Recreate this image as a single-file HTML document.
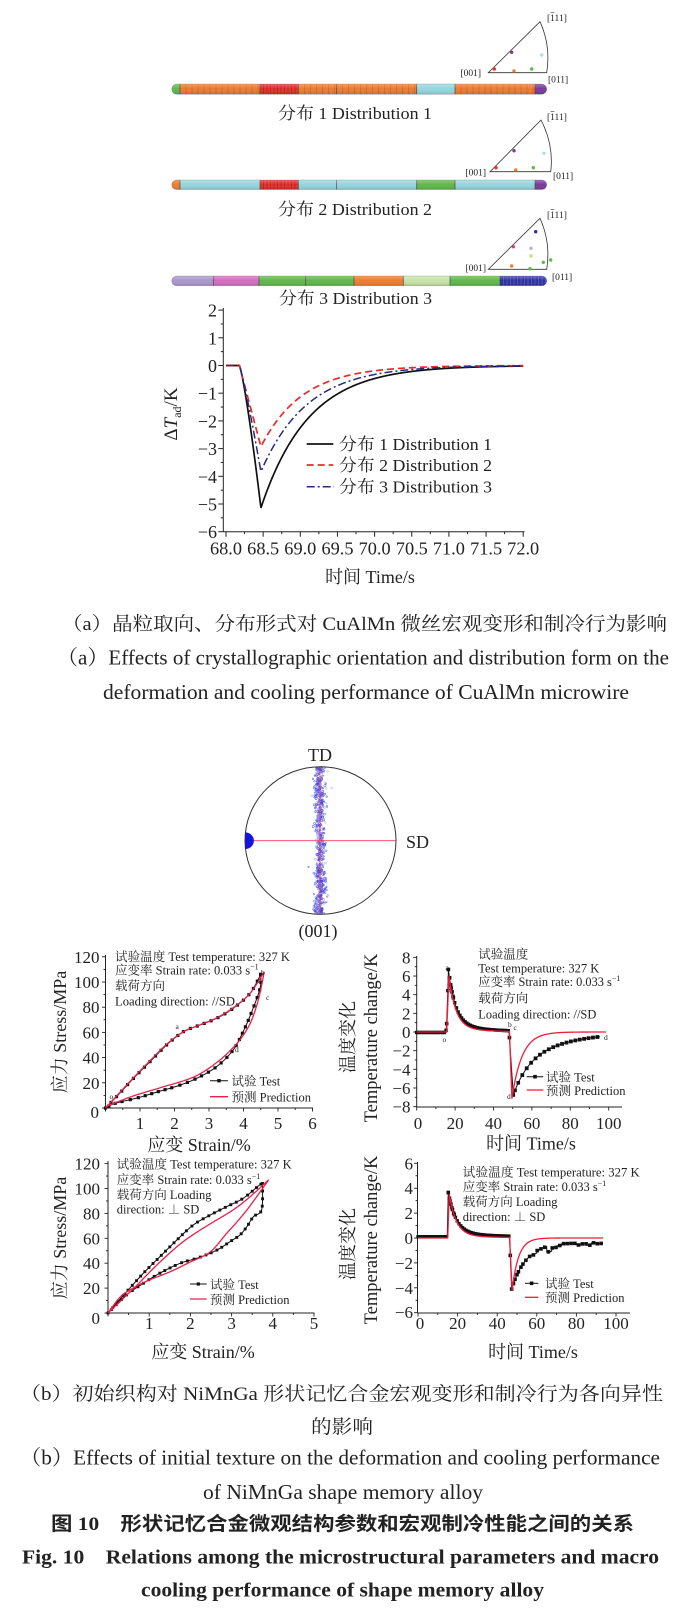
<!DOCTYPE html>
<html><head><meta charset="utf-8">
<style>
html,body{margin:0;padding:0;background:#fff;}
svg{display:block;}
text{font-family:"Liberation Serif","Noto Serif CJK SC",serif;fill:#222;}
.ann{font-size:12.5px;fill:#333;}
.tk{font-size:17px;}
.ta{font-size:18px;}
.bd{font-weight:bold;font-family:"Liberation Serif","Noto Sans CJK SC",sans-serif;}
</style></head><body>
<svg id="s" width="684" height="1610" viewBox="0 0 684 1610" xmlns="http://www.w3.org/2000/svg">
<defs id="defs">
<linearGradient id="shade" x1="0" y1="0" x2="0" y2="1">
<stop offset="0" stop-color="#fff" stop-opacity="0.3"/>
<stop offset="0.45" stop-color="#fff" stop-opacity="0"/>
<stop offset="1" stop-color="#000" stop-opacity="0.15"/>
</linearGradient>
</defs>
<rect width="684" height="1610" fill="#fff"/>

<!-- wire captions -->
<text x="278" y="119" font-size="17" textLength="154" lengthAdjust="spacingAndGlyphs">分布 1 Distribution 1</text>
<text x="278" y="215" font-size="17" textLength="154" lengthAdjust="spacingAndGlyphs">分布 2 Distribution 2</text>
<text x="279" y="304" font-size="17" textLength="153" lengthAdjust="spacingAndGlyphs">分布 3 Distribution 3</text>

<!-- IPF labels -->
<g font-size="9.5" fill="#333">
<text x="481" y="76" text-anchor="end">[001]</text>
<text x="547" y="21">[111]</text>
<text x="548" y="82.5">[011]</text>
<text x="486" y="175.5" text-anchor="end">[001]</text>
<text x="547" y="120">[111]</text>
<text x="553" y="179">[011]</text>
<text x="486" y="271" text-anchor="end">[001]</text>
<text x="547" y="218">[111]</text>
<text x="552" y="280">[011]</text>
</g>
<g stroke="#333" stroke-width="0.6">
<line x1="550.6" y1="12.5" x2="554.4" y2="12.5"/>
<line x1="550.6" y1="111.5" x2="554.4" y2="111.5"/>
<line x1="550.6" y1="209.5" x2="554.4" y2="209.5"/>
</g>

<!-- plot (a) texts -->
<g class="ta" text-anchor="end">
<text x="217" y="316.6">2</text>
<text x="217" y="344.3">1</text>
<text x="217" y="372">0</text>
<text x="217" y="399.7">−1</text>
<text x="217" y="427.4">−2</text>
<text x="217" y="455.1">−3</text>
<text x="217" y="482.8">−4</text>
<text x="217" y="510.5">−5</text>
<text x="217" y="538.2">−6</text>
</g>
<g class="ta" text-anchor="middle">
<text x="226" y="554.5" textLength="32" lengthAdjust="spacingAndGlyphs">68.0</text>
<text x="263.2" y="554.5" textLength="32" lengthAdjust="spacingAndGlyphs">68.5</text>
<text x="300.3" y="554.5" textLength="32" lengthAdjust="spacingAndGlyphs">69.0</text>
<text x="337.5" y="554.5" textLength="32" lengthAdjust="spacingAndGlyphs">69.5</text>
<text x="374.6" y="554.5" textLength="32" lengthAdjust="spacingAndGlyphs">70.0</text>
<text x="411.8" y="554.5" textLength="32" lengthAdjust="spacingAndGlyphs">70.5</text>
<text x="448.9" y="554.5" textLength="32" lengthAdjust="spacingAndGlyphs">71.0</text>
<text x="486.1" y="554.5" textLength="32" lengthAdjust="spacingAndGlyphs">71.5</text>
<text x="523.2" y="554.5" textLength="32" lengthAdjust="spacingAndGlyphs">72.0</text>
</g>
<text x="370" y="583" font-size="18" text-anchor="middle">时间 Time/s</text>
<text transform="translate(177,414) rotate(-90)" font-size="19" text-anchor="middle">Δ<tspan font-style="italic">T</tspan><tspan font-size="12" dy="4">ad</tspan><tspan dy="-4">/K</tspan></text>
<g font-size="17">
<text x="339" y="450" textLength="153" lengthAdjust="spacingAndGlyphs">分布 1 Distribution 1</text>
<text x="339" y="471" textLength="153" lengthAdjust="spacingAndGlyphs">分布 2 Distribution 2</text>
<text x="339" y="492.5" textLength="153" lengthAdjust="spacingAndGlyphs">分布 3 Distribution 3</text>
</g>

<!-- captions (a) -->
<text x="62" y="630" font-size="19" textLength="605" lengthAdjust="spacingAndGlyphs">（a）晶粒取向、分布形式对 CuAlMn 微丝宏观变形和制冷行为影响</text>
<text x="57" y="664.5" font-size="21" textLength="612" lengthAdjust="spacingAndGlyphs">（a）Effects of crystallographic orientation and distribution form on the</text>
<text x="103" y="699" font-size="21" textLength="526" lengthAdjust="spacingAndGlyphs">deformation and cooling performance of CuAlMn microwire</text>

<!-- pole figure labels -->
<text x="320" y="761" font-size="18" text-anchor="middle">TD</text>
<text x="406" y="848" font-size="18">SD</text>
<text x="318" y="937" font-size="18" text-anchor="middle">(001)</text>

<!-- b1 texts -->
<g class="tk" text-anchor="end">
<text x="99.5" y="962.8">120</text>
<text x="99.5" y="988">100</text>
<text x="99.5" y="1013.2">80</text>
<text x="99.5" y="1038.4">60</text>
<text x="99.5" y="1063.6">40</text>
<text x="99.5" y="1088.8">20</text>
<text x="99" y="1118">0</text>
</g>
<g class="tk" text-anchor="middle">
<text x="140" y="1129">1</text>
<text x="174.5" y="1129">2</text>
<text x="209" y="1129">3</text>
<text x="243.5" y="1129">4</text>
<text x="278" y="1129">5</text>
<text x="312.5" y="1129">6</text>
</g>
<text x="199" y="1151" font-size="18" text-anchor="middle">应变 Strain/%</text>
<text transform="translate(66,1032) rotate(-90)" font-size="18" text-anchor="middle">应力 Stress/MPa</text>
<g class="ann">
<text x="115" y="961" textLength="175" lengthAdjust="spacingAndGlyphs">试验温度 Test temperature: 327 K</text>
<text x="115" y="974.5">应变率 Strain rate: 0.033 s<tspan font-size="8" dy="-5">−1</tspan></text>
<text x="115" y="990">载荷方向</text>
<text x="115" y="1005.5" textLength="120" lengthAdjust="spacingAndGlyphs">Loading direction: //SD</text>
<text x="231.5" y="1085.5">试验 Test</text>
<text x="231.5" y="1101.5">预测 Prediction</text>
</g>

<!-- b2 texts -->
<g class="tk" text-anchor="end">
<text x="410.5" y="963.4">8</text>
<text x="410.5" y="982">6</text>
<text x="410.5" y="1000.7">4</text>
<text x="410.5" y="1019.3">2</text>
<text x="410.5" y="1038">0</text>
<text x="410.5" y="1056.7">−2</text>
<text x="410.5" y="1075.3">−4</text>
<text x="410.5" y="1094">−6</text>
<text x="410.5" y="1112.6">−8</text>
</g>
<g class="tk" text-anchor="middle">
<text x="418" y="1129">0</text>
<text x="455.1" y="1129">20</text>
<text x="493.5" y="1129">40</text>
<text x="531.9" y="1129">60</text>
<text x="570.3" y="1129">80</text>
<text x="608.7" y="1129">100</text>
</g>
<text x="531" y="1149.5" font-size="18" text-anchor="middle">时间 Time/s</text>
<text transform="translate(354,1037) rotate(-90)" font-size="18" text-anchor="middle">温度变化</text>
<text transform="translate(377,1038) rotate(-90)" font-size="18.5" text-anchor="middle">Temperature change/K</text>
<g class="ann">
<text x="478.3" y="958.5">试验温度</text>
<text x="478.3" y="972.5">Test temperature: 327 K</text>
<text x="478.3" y="986" textLength="142" lengthAdjust="spacingAndGlyphs">应变率 Strain rate: 0.033 s<tspan font-size="8" dy="-5">−1</tspan></text>
<text x="478.3" y="1002.5">载荷方向</text>
<text x="478.3" y="1018.5" textLength="118" lengthAdjust="spacingAndGlyphs">Loading direction: //SD</text>
<text x="546" y="1081.5">试验 Test</text>
<text x="546" y="1095">预测 Prediction</text>
</g>

<!-- b3 texts -->
<g class="tk" text-anchor="end">
<text x="100" y="1169.6">120</text>
<text x="100" y="1194.5">100</text>
<text x="100" y="1219.4">80</text>
<text x="100" y="1244.3">60</text>
<text x="100" y="1269.2">40</text>
<text x="100" y="1294.1">20</text>
<text x="100" y="1324">0</text>
</g>
<g class="tk" text-anchor="middle">
<text x="149.2" y="1329">1</text>
<text x="190.4" y="1329">2</text>
<text x="231.6" y="1329">3</text>
<text x="272.8" y="1329">4</text>
<text x="314" y="1329">5</text>
</g>
<text x="203" y="1358" font-size="18" text-anchor="middle">应变 Strain/%</text>
<text transform="translate(66,1238) rotate(-90)" font-size="18" text-anchor="middle">应力 Stress/MPa</text>
<g class="ann">
<text x="116.7" y="1168.5" textLength="175" lengthAdjust="spacingAndGlyphs">试验温度 Test temperature: 327 K</text>
<text x="116.7" y="1184">应变率 Strain rate: 0.033 s<tspan font-size="8" dy="-5">−1</tspan></text>
<text x="116.7" y="1199">载荷方向 Loading</text>
<text x="116.7" y="1213.5">direction: ⊥ SD</text>
<text x="210" y="1289">试验 Test</text>
<text x="210" y="1304">预测 Prediction</text>
</g>

<!-- b4 texts -->
<g class="tk" text-anchor="end">
<text x="413" y="1169.3">6</text>
<text x="413" y="1194.2">4</text>
<text x="413" y="1219.1">2</text>
<text x="413" y="1244">0</text>
<text x="413" y="1268.9">−2</text>
<text x="413" y="1293.8">−4</text>
<text x="413" y="1318">−6</text>
</g>
<g class="tk" text-anchor="middle">
<text x="420" y="1329">0</text>
<text x="457.6" y="1329">20</text>
<text x="497.2" y="1329">40</text>
<text x="536.8" y="1329">60</text>
<text x="576.4" y="1329">80</text>
<text x="616" y="1329">100</text>
</g>
<text x="533" y="1358" font-size="18" text-anchor="middle">时间 Time/s</text>
<text transform="translate(354,1244) rotate(-90)" font-size="18" text-anchor="middle">温度变化</text>
<text transform="translate(377,1240) rotate(-90)" font-size="18.5" text-anchor="middle">Temperature change/K</text>
<g class="ann">
<text x="462.7" y="1176.5" textLength="177" lengthAdjust="spacingAndGlyphs">试验温度 Test temperature: 327 K</text>
<text x="462.7" y="1191">应变率 Strain rate: 0.033 s<tspan font-size="8" dy="-5">−1</tspan></text>
<text x="462.7" y="1206">载荷方向 Loading</text>
<text x="462.7" y="1221">direction: ⊥ SD</text>
<text x="545" y="1288">试验 Test</text>
<text x="545" y="1302">预测 Prediction</text>
</g>

<!-- captions (b) -->
<text x="20" y="1400" font-size="19" textLength="643" lengthAdjust="spacingAndGlyphs">（b）初始织构对 NiMnGa 形状记忆合金宏观变形和制冷行为各向异性</text>
<text x="311" y="1433" font-size="19" textLength="62" lengthAdjust="spacingAndGlyphs">的影响</text>
<text x="20" y="1464.5" font-size="21" textLength="640" lengthAdjust="spacingAndGlyphs">（b）Effects of initial texture on the deformation and cooling performance</text>
<text x="203" y="1499" font-size="21" textLength="280" lengthAdjust="spacingAndGlyphs">of NiMnGa shape memory alloy</text>
<text class="bd" x="51" y="1530" font-size="19" textLength="583" lengthAdjust="spacingAndGlyphs">图 10　形状记忆合金微观结构参数和宏观制冷性能之间的关系</text>
<text class="bd" x="22" y="1563.5" font-size="20" textLength="637" lengthAdjust="spacingAndGlyphs" style="font-family:'Liberation Serif',serif">Fig. 10　Relations among the microstructural parameters and macro</text>
<text class="bd" x="141" y="1596.5" font-size="20" textLength="403" lengthAdjust="spacingAndGlyphs" style="font-family:'Liberation Serif',serif">cooling performance of shape memory alloy</text>

<g id="dyn"></g>
</svg>
<script>
(function(){
const NS="http://www.w3.org/2000/svg";
const root=document.getElementById('dyn');
const defs=document.getElementById('defs');
function el(tag,a,p){const e=document.createElementNS(NS,tag);for(const k in a)e.setAttribute(k,a[k]);(p||root).appendChild(e);return e;}
function pth(pts,a,p){const d='M'+pts.map(q=>q[0].toFixed(2)+','+q[1].toFixed(2)).join('L');return el('path',Object.assign({d:d,fill:'none','stroke-linejoin':'round'},a),p);}
function cr(pts,n){const out=[];for(let i=0;i<pts.length-1;i++){const p0=pts[Math.max(i-1,0)],p1=pts[i],p2=pts[i+1],p3=pts[Math.min(i+2,pts.length-1)];for(let j=0;j<n;j++){const t=j/n,t2=t*t,t3=t2*t;const f=(a,b,c,d)=>0.5*((2*b)+(-a+c)*t+(2*a-5*b+4*c-d)*t2+(-a+3*b-3*c+d)*t3);out.push([f(p0[0],p1[0],p2[0],p3[0]),f(p0[1],p1[1],p2[1],p3[1])]);}}out.push(pts[pts.length-1]);return out;}
function arcSample(pts,sp){const out=[pts[0]];let acc=0;for(let i=1;i<pts.length;i++){const dx=pts[i][0]-pts[i-1][0],dy=pts[i][1]-pts[i-1][1];acc+=Math.hypot(dx,dy);if(acc>=sp){out.push(pts[i]);acc=0;}}return out;}
function sq(x,y,s,c,p){el('rect',{x:x-s/2,y:y-s/2,width:s,height:s,fill:c||'#111'},p);}
let seed=12345;function rnd(){seed|=0;seed=seed+0x6D2B79F5|0;let t=Math.imul(seed^seed>>>15,1|seed);t=t+Math.imul(t^t>>>7,61|t)^t;return((t^t>>>14)>>>0)/4294967296;}
function gauss(){let u=rnd()||1e-9,v=rnd();return Math.sqrt(-2*Math.log(u))*Math.cos(2*Math.PI*v);}

/* ---------- wires ---------- */
const O='#ee7b30',R='#e5302c',C='#94d6dc',G='#5fb84a',P='#7a3b9a',L='#a996cc',K='#d46cc0',LG='#c7e3a6',N='#2e2f9e';
function wire(y,h,segs,id){
 const cp=el('clipPath',{id:id},defs);el('rect',{x:171.7,y:y,width:375,height:h,rx:h/2,ry:h/2},cp);
 const g=el('g',{'clip-path':'url(#'+id+')'});
 segs.forEach(s=>{el('rect',{x:s[0],y:y,width:s[1]-s[0]+0.2,height:h,fill:s[2]},g);
   if(s[3]){for(let x=s[0]+s[3];x<s[1]-1;x+=s[3])el('line',{x1:x,y1:y,x2:x,y2:y+h,stroke:s[4]||'rgba(0,0,0,0.22)','stroke-width':0.6},g);}});
 segs.slice(1).forEach(s=>el('line',{x1:s[0],y1:y,x2:s[0],y2:y+h,stroke:'#444','stroke-width':0.7},g));
 el('rect',{x:171.7,y:y,width:375,height:h,fill:'url(#shade)'},g);
 el('rect',{x:171.7,y:y,width:375,height:h,rx:h/2,ry:h/2,fill:'none',stroke:'rgba(0,0,0,0.3)','stroke-width':0.5});
}
wire(84,10.3,[[171.7,180,G],[180,260,O,6],[260,298.3,R,3.5,'rgba(80,0,0,0.45)'],[298.3,336.7,O,6],[336.7,416.7,O,6],[416.7,455,C],[455,535,O,6],[535,546.7,P]],'w1');
wire(180,9.5,[[171.7,180,O],[180,260,C],[260,298.3,R,3.5,'rgba(80,0,0,0.45)'],[298.3,336.7,C],[336.7,416.7,C],[416.7,455,G],[455,535,C],[535,546.7,P]],'w2');
wire(276,9.8,[[171.7,213.3,L],[213.3,259,K],[259,305.7,G],[305.7,354,G],[354,403.3,O],[403.3,450,LG],[450,500,G],[500,546.7,N,3.5,'rgba(150,150,255,0.5)']],'w3');

/* ---------- IPF triangles ---------- */
function tri(A,B,Cc,ctrl,dots){
 el('path',{d:`M${A[0]},${A[1]} L${B[0]},${B[1]} Q${ctrl[0]},${ctrl[1]} ${Cc[0]},${Cc[1]} Z`,fill:'none',stroke:'#333','stroke-width':0.8});
 dots.forEach(d=>el('circle',{cx:d[0],cy:d[1],r:1.7,fill:d[2]}));
}
tri([488.3,72.7],[546.7,72.7],[540,21.7],[551,46],[[511.7,52.3,P],[541.7,55,'#a8e2e2'],[494.3,69,R],[514,71,O],[531.7,69,G]]);
tri([490,171.7],[550.7,171.7],[541,120],[554,145],[[514,150.7,P],[544,153.3,'#a8e2e2'],[496,167.7,R],[515.7,170,O],[533.3,167.7,G]]);
tri([488.3,269.3],[546.7,269.3],[540,218.3],[551,243],[[535.7,231.7,N],[513.3,246.7,'#d04080'],[531,248.3,'#b8b0cc'],[531,256,'#c8e070'],[543.3,262.3,G],[550.7,260,G],[511.7,266,O],[530,268.7,G]]);

/* ---------- plot (a) ---------- */
{
 const X=t=>226+(t-68)*74.3,Y=v=>365.5-27.7*v;
 el('line',{x1:223.3,y1:308,x2:223.3,y2:531.7,stroke:'#222','stroke-width':1});
 el('line',{x1:223.3,y1:531.7,x2:524.5,y2:531.7,stroke:'#222','stroke-width':1});
 for(let v=-6;v<=2;v+=0.5){const y=Y(v);el('line',{x1:223.3-(Number.isInteger(v)?5:2.5),y1:y,x2:223.3,y2:y,stroke:'#222','stroke-width':1});}
 for(let t=68;t<=72.001;t+=0.25){const x=X(t);const mj=Math.abs(t*2-Math.round(t*2))<1e-6;el('line',{x1:x,y1:531.7,x2:x,y2:531.7+(mj?5:2.5),stroke:'#222','stroke-width':1});}
 function f(t,vmin,tau,pw){if(t<68.18)return 0;if(t<68.47)return vmin*Math.pow((t-68.18)/0.29,pw);return vmin*Math.exp(-(t-68.47)/tau);}
 const mk=(vmin,tau,pw)=>{const a=[];for(let t=68;t<=72.0001;t+=0.004)a.push([X(t),Y(f(t,vmin,tau,pw))]);return a;};
 pth(mk(-5.14,0.64,1.25),{stroke:'#111','stroke-width':1.7});
 pth(mk(-2.93,0.56,1.0),{stroke:'#ee2a2a','stroke-width':1.7,'stroke-dasharray':'7 4'});
 pth(mk(-3.83,0.62,1.15),{stroke:'#2a2a80','stroke-width':1.5,'stroke-dasharray':'8 3 2 3'});
 el('line',{x1:306.7,y1:444,x2:333.3,y2:444,stroke:'#111','stroke-width':1.7});
 el('line',{x1:306.7,y1:465,x2:333.3,y2:465,stroke:'#ee2a2a','stroke-width':1.7,'stroke-dasharray':'7 4'});
 el('line',{x1:306.7,y1:486.7,x2:334,y2:486.7,stroke:'#2a2a80','stroke-width':1.5,'stroke-dasharray':'8 3 2 3'});
}

/* ---------- pole figure ---------- */
{
 const cx=320.5,cy=840.5,rx=75.5,ry=73.8;
 const g=el('g',{});
 for(let i=0;i<650;i++){
  const y=cy-ry+rnd()*2*ry;
  const x=320+gauss()*2.6+1.0*Math.sin(y/7)+(rnd()<0.12?gauss()*2.5:0);
  if(((x-cx)/rx)**2+((y-cy)/ry)**2>0.985)continue;
  const c=rnd()<0.65?'#3a40e0':'#a0a6f2';
  el('ellipse',{cx:x,cy:y,rx:0.6+rnd()*0.7,ry:0.6+rnd()*0.7,fill:'none',stroke:c,'stroke-width':0.5},g);
 }
 el('line',{x1:245,y1:840.7,x2:396,y2:840.7,stroke:'#f03c5a','stroke-width':0.9});
 el('line',{x1:320,y1:766.7,x2:320,y2:914.3,stroke:'#f03c5a','stroke-width':0.9});
 el('ellipse',{cx:cx,cy:cy,rx:rx,ry:ry,fill:'none',stroke:'#333','stroke-width':1});
 el('path',{d:'M245.3,832.4 A8.6,8.3 0 0 1 245.3,849 Z',fill:'#1414e0'});
}

/* ---------- axes helper ---------- */
function axes(ax,yTop,ay,xR,yT,xT){
 el('line',{x1:ax,y1:yTop,x2:ax,y2:ay,stroke:'#222','stroke-width':1});
 el('line',{x1:ax,y1:ay,x2:xR,y2:ay,stroke:'#222','stroke-width':1});
 yT.forEach(q=>el('line',{x1:ax-q[1],y1:q[0],x2:ax,y2:q[0],stroke:'#222','stroke-width':0.9}));
 xT.forEach(q=>el('line',{x1:q[0],y1:ay,x2:q[0],y2:ay+q[1],stroke:'#222','stroke-width':0.9}));
}

/* ---------- b1 ---------- */
{
 const X=e=>105.5+34.5*e,Y=s=>1108-1.26*s;
 const yT=[],xT=[];for(let s=0;s<=120;s+=10)yT.push([Y(s),s%20?2:3.5]);for(let e=0;e<=6;e+=0.5)xT.push([X(e),e%1?2:3.5]);
 axes(105.5,955,1108,313,yT,xT);
 const up=[[0,0],[0.32,9],[0.81,23.5],[1.29,36.8],[1.77,50],[2.26,60.6],[2.74,65.9],[3.22,71.2],[3.7,79.1],[4.19,91],[4.5,106]];
 const lo=[[4.5,106],[4.48,95],[4.24,76.4],[3.99,60.6],[3.7,46],[3.22,32.8],[2.64,23.5],[2.11,17.7],[1.53,13],[0.95,8.2],[0.28,3.7],[0,0]];
 const P=a=>a.map(q=>[X(q[0]),Y(q[1])]);
 const U=cr(P(up),12),D=cr(P(lo),12);
 pth(U,{stroke:'#111','stroke-width':1});pth(D,{stroke:'#111','stroke-width':1});
 arcSample(U,6.8).forEach(q=>sq(q[0],q[1],3.2));arcSample(D,6.8).forEach(q=>sq(q[0],q[1],3.2));
 const rup=[[0,0],[0.32,9.5],[0.81,24],[1.29,37.5],[1.77,50.5],[2.26,60.5],[2.74,66],[3.22,71.5],[3.7,79.5],[4.19,91],[4.6,108]];
 const rlo=[[4.6,108],[4.45,88],[4.24,70],[4.0,58],[3.7,48],[3.22,36],[2.55,24.5],[1.58,16],[0.8,9.5],[0,1]];
 pth(cr(P(rup),12),{stroke:'#e8204a','stroke-width':1.3});pth(cr(P(rlo),12),{stroke:'#e8204a','stroke-width':1.3});
 el('line',{x1:210,y1:1080.7,x2:228,y2:1080.7,stroke:'#111','stroke-width':1});sq(219,1080.7,3.4);
 el('line',{x1:210,y1:1096.7,x2:228,y2:1096.7,stroke:'#e8204a','stroke-width':1.3});
 [['o',109.5,1099],['a',175.5,1029],['c',266,1000],['d',235,1052]].forEach(q=>{const t=el('text',{x:q[1],y:q[2],'font-size':7.5,fill:'#555'});t.textContent=q[0];});
 const tb=el('text',{x:261,y:975,'font-size':7.5,fill:'#3a8a8a'});tb.textContent='b';
}

/* ---------- b2 ---------- */
{
 const X=t=>416.7+1.92*t,Y=v=>1032-9.33*v;
 const yT=[],xT=[];for(let v=-8;v<=8;v+=1)yT.push([Y(v),v%2?2:3.5]);for(let t=0;t<=100;t+=10)xT.push([X(t),t%20?2:3.5]);
 axes(416.7,956,1107,622,yT,xT);
 function ft(t){
  if(t<15.2)return -0.05;
  if(t<16.5){return t<15.6?-0.05+(t-15.2)/0.4*0.95:0.9+(t-15.6)/0.9*5.3;}
  if(t<48)return 5.9*Math.exp(-(t-16.5)/3.8)+0.8*Math.exp(-(t-16.5)/18);
  if(t<50.3){if(t<48.3)return 0.15-(t-48)/0.3*0.75;return -0.6-(t-48.3)/2*6.15;}
  return -3.5*Math.exp(-(t-50.3)/8)-3.25*Math.exp(-(t-50.3)/24);
 }
 const tp=[];for(let t=0;t<=95.5;t+=0.05)tp.push([X(t),Y(ft(t))]);
 pth(tp,{stroke:'#111','stroke-width':1});
 for(let t=0;t<48;t+=0.9)sq(X(t),Y(ft(t)),3.4);
 [15.6,16.5,17.1,17.7,18.4,19.1].forEach(t=>sq(X(t),Y(ft(t)),3.6));
 [48.3,50.3,51.2,52.9].forEach(t=>sq(X(t),Y(ft(t)),3.6));
 for(let t=55;t<=95.5;t+=2.3)sq(X(t),Y(ft(t)),3.8);
 function fr(t){
  if(t<15.6)return 0;
  if(t<16.8)return (t-15.6)/1.2*6.0;
  if(t<48.3)return 5.5*Math.exp(-(t-16.8)/3.6)+0.5*Math.exp(-(t-16.8)/15);
  if(t<49.6){const v0=5.5*Math.exp(-31.5/3.6)+0.5*Math.exp(-31.5/15);return v0+(t-48.3)/1.3*(-7.1-v0);}
  return -7.1*Math.exp(-(t-49.6)/5.3);
 }
 const rp=[];for(let t=0;t<=98.6;t+=0.05)rp.push([X(t),Y(fr(t))]);
 pth(rp,{stroke:'#ee1c3a','stroke-width':1.3});
 el('line',{x1:526.7,y1:1076.7,x2:543.3,y2:1076.7,stroke:'#111','stroke-width':1});sq(535,1076.7,3.6);
 el('line',{x1:526.7,y1:1090,x2:543.3,y2:1090,stroke:'#ee1c3a','stroke-width':1.3});
 [['a',445.5,970],['o',442.5,1042],['b',508,1027],['c',513.5,1030],['d',507,1099],['d',604,1040]].forEach(q=>{const t=el('text',{x:q[1],y:q[2],'font-size':7.5,fill:'#555'});t.textContent=q[0];});
}

/* ---------- b3 ---------- */
{
 const X=e=>108+41.2*e,Y=s=>1313-1.245*s;
 const yT=[],xT=[];for(let s=0;s<=120;s+=10)yT.push([Y(s),s%20?2:3.5]);for(let e=0;e<=5;e+=0.5)xT.push([X(e),e%1?2:3.5]);
 axes(108,1161,1313,314.5,yT,xT);
 const P=a=>a.map(q=>[X(q[0]),Y(q[1])]);
 const up=[[0,0],[0.45,17],[0.86,32],[1.26,45.2],[1.67,58.6],[2.07,70.7],[2.48,78.7],[2.88,85.4],[3.28,92.1],[3.68,102.8],[3.75,104]];
 const lo=[[3.75,104],[3.73,83],[3.53,77.4],[3.37,69.3],[3.2,62.6],[2.96,57.3],[2.72,52],[2.48,48],[2.15,43.9],[1.75,39.9],[1.26,32],[0.86,23.9],[0.45,14.5],[0,0]];
 const U=cr(P(up),12),D=cr(P(lo),12);
 pth(U,{stroke:'#111','stroke-width':1});pth(D,{stroke:'#111','stroke-width':1});
 arcSample(U,5.5).forEach(q=>sq(q[0],q[1],2.9));arcSample(D,5.5).forEach(q=>sq(q[0],q[1],2.9));
 const rup=[[0,0],[0.6,19],[1.2,39],[1.7,54],[2.07,63],[2.5,72],[3.0,82],[3.4,92],[3.9,107]];
 const rlo=[[3.9,107],[3.6,93],[3.37,82.7],[3.1,72],[2.88,64],[2.48,49],[2.0,41],[1.5,33],[1.0,26.5],[0.61,20],[0.3,13],[0,0]];
 pth(cr(P(rup),12),{stroke:'#e8204a','stroke-width':1.3});pth(cr(P(rlo),12),{stroke:'#e8204a','stroke-width':1.3});
 el('line',{x1:190,y1:1284,x2:206.7,y2:1284,stroke:'#111','stroke-width':1});sq(198.3,1284,3.2);
 el('line',{x1:190,y1:1299,x2:206.7,y2:1299,stroke:'#e8204a','stroke-width':1.3});
}

/* ---------- b4 ---------- */
{
 const X=t=>418+1.98*t,Y=v=>1238-12.45*v;
 const yT=[],xT=[];for(let v=-6;v<=6;v+=1)yT.push([Y(v),v%2?2:3.5]);for(let t=0;t<=100;t+=10)xT.push([X(t),t%20?2:3.5]);
 axes(417.5,1162,1313,630,yT,xT);
 const noise=[];for(let i=0;i<200;i++)noise.push(gauss());
 function ft(t){
  if(t<14.8)return 0.1;
  if(t<15.3)return 0.3+(t-14.8)/0.5*3.3;
  if(t<46.2)return 3.3*Math.exp(-(t-15.3)/4)+0.35*Math.exp(-(t-15.3)/35);
  if(t<47.3){if(t<46.6)return 0.15-(t-46.2)/0.4*1.55;return -1.4-(t-46.6)/0.7*2.7;}
  let v=-3.6*Math.exp(-(t-47.3)/7)-0.5;
  if(t>58){const i=Math.floor(t/2.5);v+=0.12*noise[i%200];}
  return v;
 }
 const tp=[];for(let t=0;t<=93;t+=0.05)tp.push([X(t),Y(ft(t))]);
 pth(tp,{stroke:'#111','stroke-width':1});
 for(let t=0;t<46.2;t+=0.9)sq(X(t),Y(ft(t)),3.4);
 [15.3,15.9,16.6,17.4,18.3].forEach(t=>sq(X(t),Y(ft(t)),3.6));
 [46.6,47.3,48.2,49,50,50.7,52,53].forEach(t=>sq(X(t),Y(ft(t)),3.6));
 for(let t=54.5;t<=93;t+=1.9)sq(X(t),Y(ft(t)),3.6);
 function fr(t){
  if(t<15)return 0;
  if(t<15.8)return (t-15)/0.8*3.5;
  if(t<46.3)return 3.3*Math.exp(-(t-15.8)/3.6)+0.2*Math.exp(-(t-15.8)/20);
  if(t<47.5){const v0=3.3*Math.exp(-30.5/3.6)+0.2*Math.exp(-30.5/20);return v0+(t-46.3)/1.2*(-4.2-v0);}
  return -4.2*Math.exp(-(t-47.5)/3.3);
 }
 const rp=[];for(let t=0;t<=93.5;t+=0.05)rp.push([X(t),Y(fr(t))]);
 pth(rp,{stroke:'#ee1c3a','stroke-width':1.3});
 el('line',{x1:525,y1:1283.3,x2:538.3,y2:1283.3,stroke:'#111','stroke-width':1});sq(531.6,1283.3,3.6);
 el('line',{x1:525,y1:1297.3,x2:538.3,y2:1297.3,stroke:'#ee1c3a','stroke-width':1.3});
}
})();
</script>
</body></html>
